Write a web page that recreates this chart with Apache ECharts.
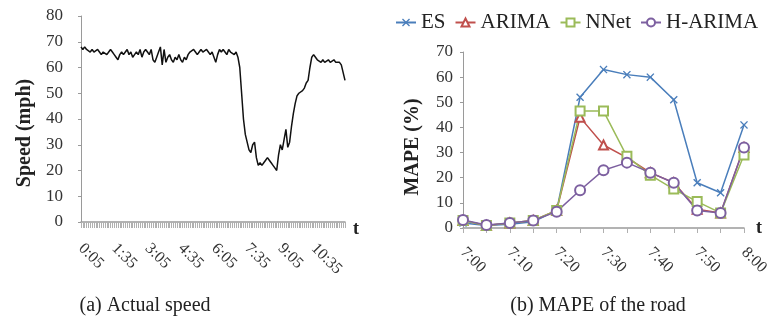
<!DOCTYPE html>
<html>
<head>
<meta charset="utf-8">
<script src="https://cdn.jsdelivr.net/npm/echarts@6/dist/echarts.min.js"></script>
<style>
  html, body { margin: 0; padding: 0; background: #fff; }
  #chart { width: 779px; height: 327px; }
</style>
</head>
<body>
<div id="chart"></div>
<script>
// (a) actual speed, one value every 5 minutes from 0:05
const speedStart = 5;
const speedStep = 5;
const speedValues = [
  68, 67, 68, 67, 67, 66, 67, 66, 66, 67,
  66, 65, 66, 66, 65, 66, 67, 66, 65, 64,
  63, 65, 66, 65, 66, 67, 65, 66, 64, 65,
  66, 65, 67, 64, 66, 67, 66, 65, 67, 63,
  62, 64, 66, 68, 61, 67, 62, 64, 65, 63,
  62, 64, 63, 65, 63, 62, 64, 63, 65, 66,
  66, 67, 66, 65, 66, 67, 66, 66, 67, 66,
  65, 66, 66, 62, 65, 67, 66, 67, 66, 65,
  67, 66, 66, 65, 66, 64, 60, 50, 40, 34,
  31, 28, 27, 30, 31, 25, 22, 23, 22, 23,
  24, 25, 24, 23, 22, 21, 20, 26, 30, 28,
  32, 36, 29, 31, 37, 42, 46, 49, 50, 50,
  51, 52, 54, 55, 60, 64, 65, 64, 63, 63,
  62, 63, 62, 62, 63, 62, 62, 63, 62, 62,
  62, 61, 58, 55
];
const speedTimes = speedValues.map((v, i) => {
  const m = speedStart + speedStep * i;
  return Math.floor(m / 60) + ':' + String(m % 60).padStart(2, '0');
});

// (b) MAPE of the road
const mapeTimes = ['7:00', '7:05', '7:10', '7:15', '7:20', '7:25', '7:30', '7:35', '7:40', '7:45', '7:50', '7:55', '8:00'];
const esValues     = [2, 1, 1.5, 2.5, 7, 52, 63, 61, 60, 51, 18, 14, 41];
const arimaValues  = [3, 1, 2, 3, 7, 44, 33, 28, 22, 18, 7.5, 6, 32];
const nnetValues   = [3, 1, 2, 3, 7, 46.5, 46.5, 28.5, 21, 15.5, 10.5, 6, 29];
const harimaValues = [3.2, 1.2, 2, 3, 6.5, 15, 23, 26, 22, 18, 7, 6, 32];

const serif = 'Liberation Serif';
const axisGray = '#9a9a9a';

const xPath = 'path://M0,1.2 L1.2,0 L5,3.8 L8.8,0 L10,1.2 L6.2,5 L10,8.8 L8.8,10 L5,6.2 L1.2,10 L0,8.8 L3.8,5 Z';

const chart = echarts.init(document.getElementById('chart'));
chart.setOption({
  animation: false,
  title: [
    { text: '(a) Actual speed', left: 140, top: 291, textAlign: 'center',
      textStyle: { fontFamily: serif, fontSize: 20, fontWeight: 'normal', color: '#222' } },
    { text: '(b) MAPE of the road', left: 593, top: 291, textAlign: 'center',
      textStyle: { fontFamily: serif, fontSize: 20, fontWeight: 'normal', color: '#222' } }
  ],
  legend: {
    left: 390, top: 7, itemGap: 9, itemWidth: 20, itemHeight: 10,
    textStyle: { fontFamily: serif, fontSize: 21, color: '#222' },
    data: ['ES', 'ARIMA', 'NNet', 'H-ARIMA']
  },
  grid: [
    { left: 81, top: 16, width: 264, height: 206 },
    { left: 463, top: 52, width: 281, height: 176 }
  ],
  xAxis: [
    {
      gridIndex: 0, type: 'category', boundaryGap: false, data: speedTimes,
      name: 't', nameLocation: 'end', nameGap: 8,
      nameTextStyle: { fontFamily: serif, fontSize: 18, fontWeight: 'bold', color: '#222', verticalAlign: 'top', lineHeight: 14 },
      axisLine: { lineStyle: { color: axisGray, width: 1.5 } },
      axisTick: { interval: 0, length: 6, lineStyle: { color: '#b0b0b0' } },
      axisLabel: { interval: 17, rotate: -45, margin: 24, fontFamily: serif, fontSize: 16, color: '#333' }
    },
    {
      gridIndex: 1, type: 'category', boundaryGap: false, data: mapeTimes,
      name: 't', nameLocation: 'end', nameGap: 12,
      nameTextStyle: { fontFamily: serif, fontSize: 18, fontWeight: 'bold', color: '#222' },
      axisLine: { lineStyle: { color: axisGray, width: 1.5 } },
      axisTick: { interval: 0, length: 5, lineStyle: { color: '#b0b0b0' } },
      axisLabel: { interval: 1, rotate: -45, margin: 22, fontFamily: serif, fontSize: 16, color: '#333' }
    }
  ],
  yAxis: [
    {
      gridIndex: 0, type: 'value', min: 0, max: 80, interval: 10,
      name: 'Speed (mph)', nameLocation: 'middle', nameGap: 46,
      nameTextStyle: { fontFamily: serif, fontSize: 20, fontWeight: 'bold', color: '#222', padding: [0, 28, 0, 0] },
      axisLine: { show: true, lineStyle: { color: axisGray } },
      axisTick: { show: true, length: 3, lineStyle: { color: axisGray } },
      splitLine: { show: false },
      axisLabel: { margin: 18, fontFamily: serif, fontSize: 17, color: '#333' }
    },
    {
      gridIndex: 1, type: 'value', min: 0, max: 70, interval: 10,
      name: 'MAPE (%)', nameLocation: 'middle', nameGap: 40,
      nameTextStyle: { fontFamily: serif, fontSize: 20, fontWeight: 'bold', color: '#222', padding: [0, 14, 0, 0] },
      axisLine: { show: true, lineStyle: { color: axisGray } },
      axisTick: { show: true, length: 3, lineStyle: { color: axisGray } },
      splitLine: { show: false },
      axisLabel: { margin: 10, fontFamily: serif, fontSize: 17, color: '#333' }
    }
  ],
  series: [
    {
      name: 'Speed', type: 'line', xAxisIndex: 0, yAxisIndex: 0, data: speedValues,
      symbol: 'none', lineStyle: { color: '#111', width: 1.5 }
    },
    {
      name: 'ES', type: 'line', xAxisIndex: 1, yAxisIndex: 1, data: esValues,
      symbol: xPath, symbolSize: 8, color: '#4a7ebb', lineStyle: { width: 1.5 }
    },
    {
      name: 'ARIMA', type: 'line', xAxisIndex: 1, yAxisIndex: 1, data: arimaValues,
      symbol: 'emptyTriangle', symbolSize: 9, color: '#c0504d', lineStyle: { width: 1.5 }
    },
    {
      name: 'NNet', type: 'line', xAxisIndex: 1, yAxisIndex: 1, data: nnetValues,
      symbol: 'emptyRect', symbolSize: 9, color: '#9bbb59', lineStyle: { width: 1.5 }
    },
    {
      name: 'H-ARIMA', type: 'line', xAxisIndex: 1, yAxisIndex: 1, data: harimaValues,
      symbol: 'emptyCircle', symbolSize: 10, color: '#7d60a0', lineStyle: { width: 1.5 }
    }
  ]
});
</script>
</body>
</html>
